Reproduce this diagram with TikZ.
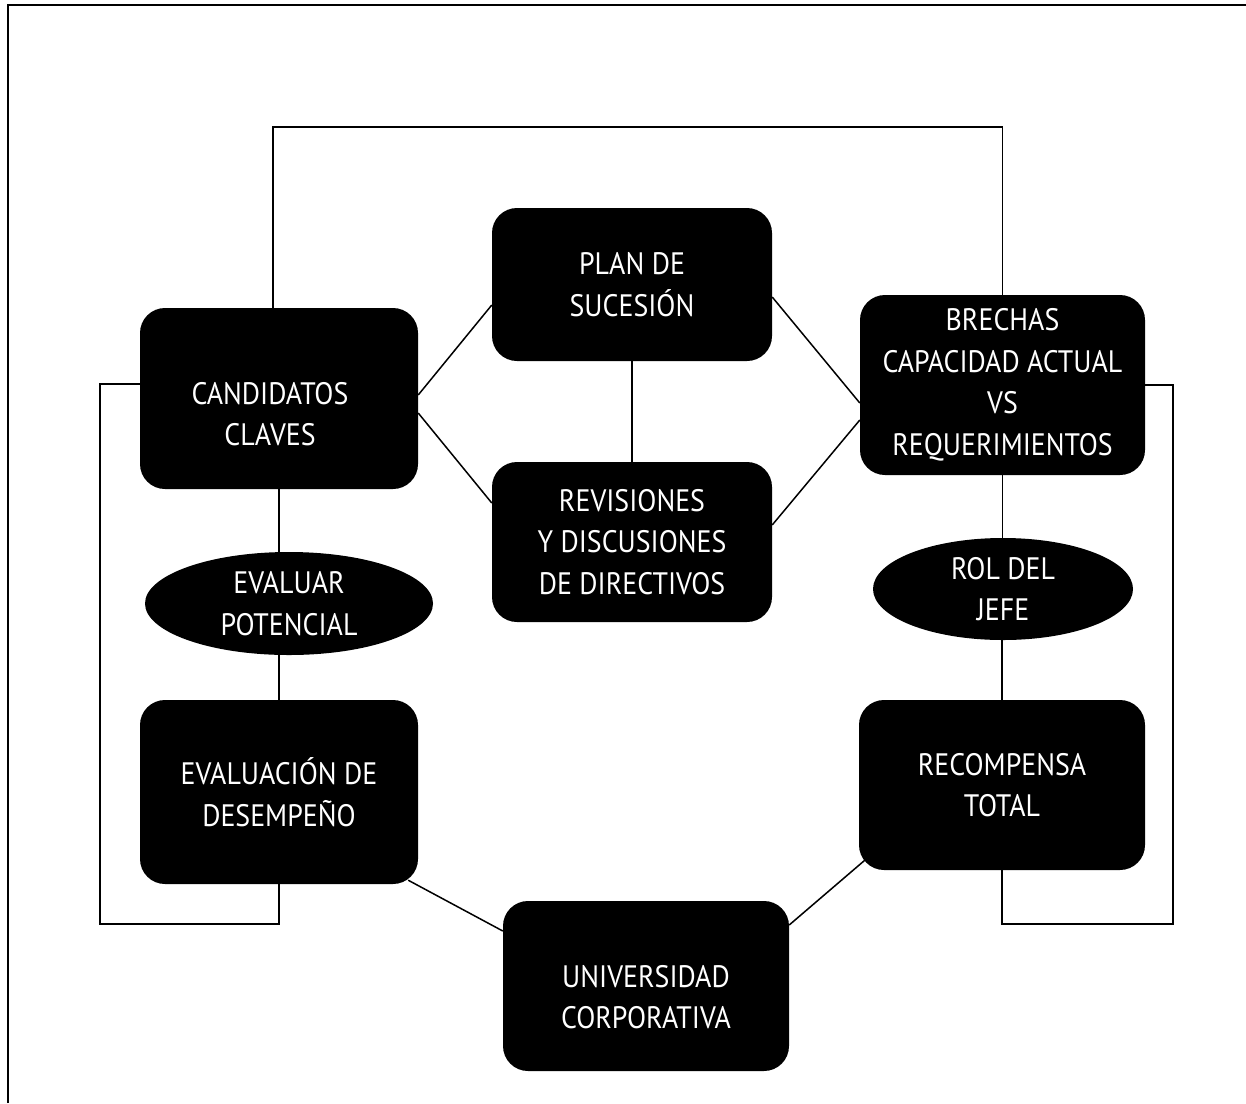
\documentclass[tikz,border=0pt]{standalone}
\usepackage{fontspec}
\setmainfont{PT Sans}[FakeStretch=0.9]
\usetikzlibrary{shapes.geometric}

\begin{document}
\begin{tikzpicture}[x=1pt,y=-1pt,
  label text/.style={text=white, align=center, font=\fontsize{31}{41.5}\selectfont},
  box/.style={label text, fill=black, rounded corners=25pt, inner sep=0pt},
  oval/.style={label text, ellipse, fill=black, inner sep=0pt},
  link/.style={line width=1.5pt, black},
  frame/.style={line width=2pt, black}]

\useasboundingbox (0,0) rectangle (1246,1103);

% outer frame (open to the right and bottom)
\draw[frame] (8,1103) -- (8,5) -- (1246,5);

% rounded boxes
\node[box, minimum width=278pt, minimum height=181pt] (cand) at (279,398.5) {};
\node[label text] (candtxt) at (270,414) {CANDIDATOS\\CLAVES};
\node[box, minimum width=280pt, minimum height=153pt] (plan) at (632,284.5) {PLAN DE\\SUCESIÓN};
\node[box, minimum width=280pt, minimum height=160pt] (rev) at (632,542) {REVISIONES\\Y DISCUSIONES\\DE DIRECTIVOS};
\node[box, minimum width=285pt, minimum height=180pt] (brech) at (1002.5,385) {BRECHAS\\CAPACIDAD ACTUAL\\VS\\REQUERIMIENTOS};
\node[box, minimum width=278pt, minimum height=184pt] (evald) at (279,792) {EVALUACIÓN DE\\DESEMPEÑO};
\node[box, minimum width=286pt, minimum height=170pt] (recomp) at (1002,785) {RECOMPENSA\\TOTAL};
\node[box, minimum width=286pt, minimum height=170pt] (univ) at (646,986) {};
\node[label text] (univtxt) at (646,997) {UNIVERSIDAD\\CORPORATIVA};

% ellipses
\node[oval, minimum width=288pt, minimum height=103pt] (evalp) at (289,603.5) {EVALUAR\\POTENCIAL};
\node[oval, minimum width=260pt, minimum height=102pt] (rol) at (1003,589) {ROL DEL\\JEFE};

% bracket coordinates
\coordinate (topbar) at (640,127);
\coordinate (lb) at (100,924);
\coordinate (rb) at (1173,924);

% brackets
\draw[link] ([xshift=-6pt]cand.north) |- (topbar) -| (brech.north);
\draw[link] ([yshift=14.5pt]cand.west) -| (lb) -| (evald.south);
\draw[link] (brech.east) -| (rb) -| (recomp.south);

% vertical chains
\draw[link] (cand.south) -- (cand.south |- evalp.north);
\draw[link] (evalp.south -| evald.north) -- (evald.north);
\draw[link] (brech.south) -- (brech.south |- rol.north);
\draw[link] (rol.south -| recomp.north) -- (recomp.north);
\draw[link] (plan.south) -- (rev.north);

% diagonals around the centre
\draw[link] ([yshift=3.5pt]cand.east) -- ([yshift=-20.5pt]plan.west);
\draw[link] ([yshift=-14.5pt]cand.east) -- ([yshift=39pt]rev.west);
\draw[link] ([yshift=-12.5pt]plan.east) -- ([yshift=-18pt]brech.west);
\draw[link] ([yshift=17pt]rev.east) -- ([yshift=-35pt]brech.west);
\draw[link] ([xshift=-10pt,yshift=4pt]evald.south east) -- ([yshift=55pt]univ.west);
\draw[link] ([xshift=6pt,yshift=10pt]recomp.south west) -- ([yshift=61pt]univ.east);
\end{tikzpicture}
\end{document}
